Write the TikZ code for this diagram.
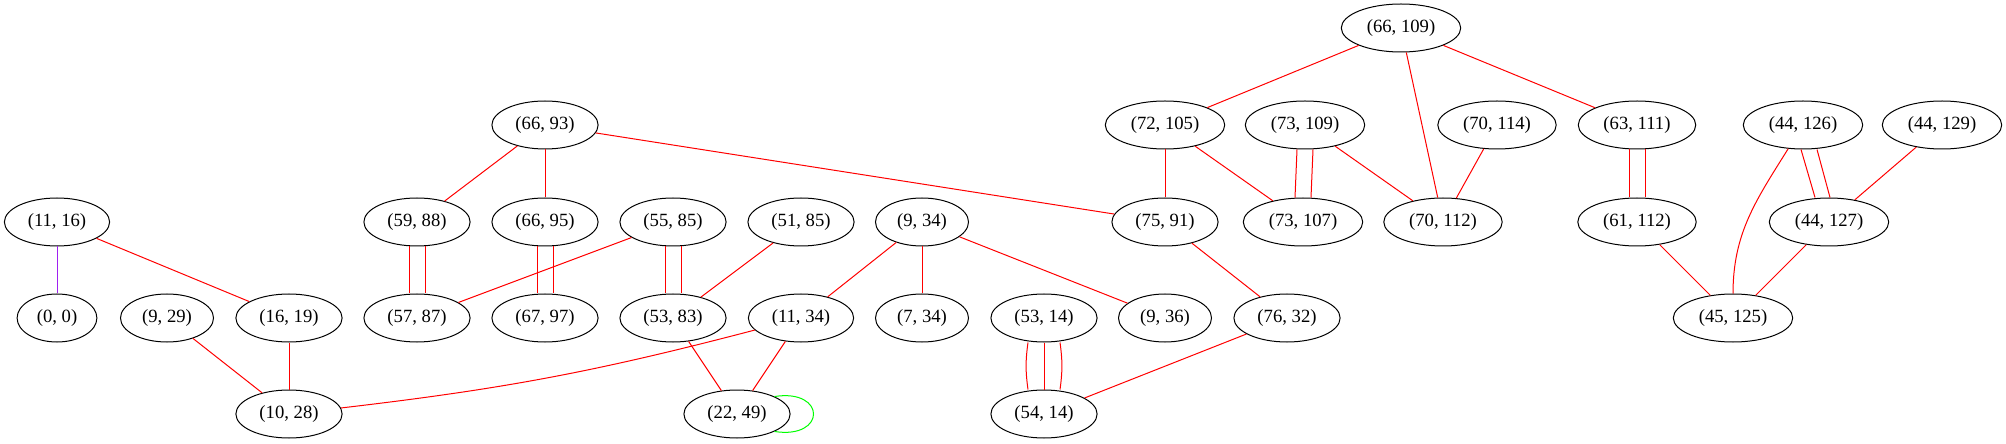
\documentclass[tikz,border=0pt]{standalone}
\usepackage{fontspec}
\setmainfont{Liberation Serif}
\usetikzlibrary{shapes.geometric,calc}
\definecolor{xpurple}{HTML}{A020F0}
\definecolor{xgreen}{HTML}{00FF00}
\tikzset{
  pt/.style={ellipse, draw, line width=0.75pt, minimum height=36pt, minimum width=54pt,
    inner xsep=6pt, inner ysep=2pt, font=\fontsize{14}{16}\selectfont},
  link/.style={red, line width=0.75pt},
}
\begin{document}
\begin{tikzpicture}[x=0.75pt,y=0.75pt]
\useasboundingbox (0,0) rectangle (2006,443);
\node[pt] (v66x109) at (1401,415){(66, 109)};
\node[pt] (v66x93) at (545,318){(66, 93)};
\node[pt] (v72x105) at (1165,318){(72, 105)};
\node[pt] (v73x109) at (1305,318){(73, 109)};
\node[pt] (v70x114) at (1497,318){(70, 114)};
\node[pt] (v63x111) at (1637,318){(63, 111)};
\node[pt] (v44x126) at (1803,318){(44, 126)};
\node[pt] (v44x129) at (1942,318){(44, 129)};
\node[pt] (v11x16) at (57,221){(11, 16)};
\node[pt] (v59x88) at (417,221){(59, 88)};
\node[pt] (v66x95) at (545,221){(66, 95)};
\node[pt] (v55x85) at (673,221){(55, 85)};
\node[pt] (v51x85) at (801,221){(51, 85)};
\node[pt] (v9x34) at (922,221){(9, 34)};
\node[pt] (v75x91) at (1165,221){(75, 91)};
\node[pt] (v73x107) at (1303,221){(73, 107)};
\node[pt] (v70x112) at (1443,221){(70, 112)};
\node[pt] (v61x112) at (1637,221){(61, 112)};
\node[pt] (v44x127) at (1829,221){(44, 127)};
\node[pt] (v0x0) at (57,125){(0, 0)};
\node[pt] (v9x29) at (167,125){(9, 29)};
\node[pt] (v16x19) at (289,125){(16, 19)};
\node[pt] (v57x87) at (417,125){(57, 87)};
\node[pt] (v67x97) at (545,125){(67, 97)};
\node[pt] (v53x83) at (673,125){(53, 83)};
\node[pt] (v11x34) at (801,125){(11, 34)};
\node[pt] (v7x34) at (922,125){(7, 34)};
\node[pt] (v53x14) at (1044,125){(53, 14)};
\node[pt] (v9x36) at (1165,125){(9, 36)};
\node[pt] (v76x32) at (1287,125){(76, 32)};
\node[pt] (v45x125) at (1733,125){(45, 125)};
\node[pt] (v10x28) at (289,29){(10, 28)};
\node[pt] (v22x49) at (737,29){(22, 49)};
\node[pt] (v54x14) at (1044,29){(54, 14)};
\draw[link] (v66x109) -- (v72x105);
\draw[link] (v66x109) -- (v70x112);
\draw[link] (v66x109) -- (v63x111);
\draw[link] (v72x105) -- (v75x91);
\draw[link] (v72x105) -- (v73x107);
\draw[link] ($(v73x109.south)+(-8,0)$) -- ($(v73x107.north)+(-8,0)$);
\draw[link] ($(v73x109.south)+(8,0)$) -- ($(v73x107.north)+(8,0)$);
\draw[link] (v73x109) -- (v70x112);
\draw[link] (v70x114) -- (v70x112);
\draw[link] ($(v63x111.south)+(-8,0)$) -- ($(v61x112.north)+(-8,0)$);
\draw[link] ($(v63x111.south)+(8,0)$) -- ($(v61x112.north)+(8,0)$);
\draw[link] ($(v44x126.south)+(-2,0)$) -- ($(v44x127.north)+(-14,0)$);
\draw[link] ($(v44x126.south)+(14,0)$) -- ($(v44x127.north)+(1,0)$);
\draw[link] (v44x126) to[out=238,in=90] (v45x125);
\draw[link] (v44x129) -- (v44x127);
\draw[link] (v61x112) -- (v45x125);
\draw[link] (v44x127) -- (v45x125);
\draw[link] (v66x93) -- (v59x88);
\draw[link] (v66x93) -- (v66x95);
\draw[link] (v66x93) -- (v75x91);
\draw[xpurple, line width=0.75pt] (v11x16) -- (v0x0);
\draw[link] (v11x16) -- (v16x19);
\draw[link] ($(v59x88.south)+(-8,0)$) -- ($(v57x87.north)+(-8,0)$);
\draw[link] ($(v59x88.south)+(8,0)$) -- ($(v57x87.north)+(8,0)$);
\draw[link] ($(v66x95.south)+(-8,0)$) -- ($(v67x97.north)+(-8,0)$);
\draw[link] ($(v66x95.south)+(8,0)$) -- ($(v67x97.north)+(8,0)$);
\draw[link] (v55x85) -- (v57x87);
\draw[link] ($(v55x85.south)+(-8,0)$) -- ($(v53x83.north)+(-8,0)$);
\draw[link] ($(v55x85.south)+(8,0)$) -- ($(v53x83.north)+(8,0)$);
\draw[link] (v51x85) -- (v53x83);
\draw[link] (v9x34) -- (v11x34);
\draw[link] (v9x34) -- (v7x34);
\draw[link] (v9x34) -- (v9x36);
\draw[link] (v75x91) -- (v76x32);
\draw[link] (v9x29) -- (v10x28);
\draw[link] (v16x19) -- (v10x28);
\draw[link] (v11x34) to[bend left=4] (v10x28);
\draw[link] (v11x34) -- (v22x49);
\draw[link] (v53x83) -- (v22x49);
\draw[xgreen, line width=0.75pt] (v22x49.25) .. controls +(52,8) and +(52,-8) .. (v22x49.-25);
\draw[link] ($(v53x14.south)+(-16,0)$) to[bend right=8] ($(v54x14.north)+(-16,0)$);
\draw[link] (v53x14) -- (v54x14);
\draw[link] ($(v53x14.south)+(16,0)$) to[bend left=8] ($(v54x14.north)+(16,0)$);
\draw[link] (v76x32) -- (v54x14);
\end{tikzpicture}
\end{document}
